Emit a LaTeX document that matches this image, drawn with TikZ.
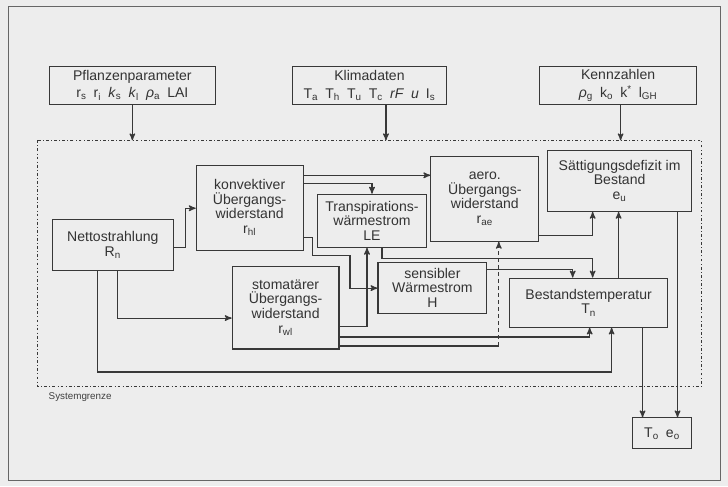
\documentclass[tikz,border=0pt]{standalone}
\usepackage{fontspec}
\setmainfont{Liberation Sans}
\usepackage{tikz}
\usetikzlibrary{arrows,positioning}

\begin{document}
\begin{tikzpicture}[x=0.025cm, y=-0.025cm, >=stealth', line width=0.8pt,
    every path/.style={draw=black!78},
    box/.style={rectangle, draw=black!78, align=center, inner sep=1pt,
        font=\fontsize{10}{10.4}\selectfont, text=black!80}]
    % background and frame
    \fill[black!7] (0,0) rectangle (728,486);
    \draw[line width=0.5pt, black!60] (8,6) rectangle (721,481);

    % input boxes
    \node[box, minimum width=166*0.025cm, minimum height=38*0.025cm] (pflanz) at (132,85)
        {Pflanzenparameter\\[2pt] r\textsubscript{s}\enspace r\textsubscript{i}\enspace \textit{k}\textsubscript{s}\enspace \textit{k}\textsubscript{l}\enspace \textit{ρ}\textsubscript{a}\enspace LAI};
    \node[box, minimum width=155*0.025cm, minimum height=38*0.025cm] (klima) at (369.5,85)
        {Klimadaten\\[2pt] T\textsubscript{a}\enspace T\textsubscript{h}\enspace T\textsubscript{u}\enspace T\textsubscript{c}\enspace \textit{rF}\enspace \textit{u}\enspace I\textsubscript{s}};
    \node[box, minimum width=157*0.025cm, minimum height=38*0.025cm] (kenn) at (618.5,85)
        {Kennzahlen\\[2pt] \textit{ρ}\textsubscript{g}\enspace k\textsubscript{o}\enspace k\textsuperscript{*}\enspace l\textsubscript{GH}};

    % system boundary
    \draw[line width=0.6pt, dash pattern=on 2pt off 1.6pt on 0.6pt off 1.6pt] (37,140) rectangle (702,386);
    \node[anchor=west, font=\fontsize{7}{8}\selectfont, text=black!75] (grenze) at (43,397) {Systemgrenze};
    \coordinate (gP) at (132,140);
    \coordinate (gK) at (386,140);
    \coordinate (gZ) at (621,140);

    % inner boxes
    \node[box, minimum width=121*0.025cm, minimum height=51*0.025cm] (netto) at (112.5,244.5)
        {Nettostrahlung\\R\textsubscript{n}};
    \node[box, minimum width=107*0.025cm, minimum height=85*0.025cm] (konv) at (249.5,207.5)
        {konvektiver\\Übergangs-\\widerstand\\r\textsubscript{hl}};
    \node[box, minimum width=110*0.025cm, minimum height=53*0.025cm] (transp) at (372,220.5)
        {Transpirations-\\wärmestrom\\LE};
    \node[box, minimum width=108*0.025cm, minimum height=85*0.025cm] (aero) at (485,198.5)
        {aero.\\Übergangs-\\widerstand\\r\textsubscript{ae}};
    \node[box, minimum width=144*0.025cm, minimum height=61*0.025cm] (saett) at (620,180.5)
        {Sättigungsdefizit im\\Bestand\\e\textsubscript{u}};
    \node[box, minimum width=109*0.025cm, minimum height=51*0.025cm] (sens) at (432.5,287.5)
        {sensibler\\Wärmestrom\\H};
    \node[box, minimum width=107*0.025cm, minimum height=83*0.025cm] (stom) at (285.5,307.5)
        {stomatärer\\Übergangs-\\widerstand\\r\textsubscript{wl}};
    \node[box, minimum width=158*0.025cm, minimum height=49*0.025cm] (best) at (589,302.5)
        {Bestandstemperatur\\T\textsubscript{n}};
    \node[box, minimum width=59*0.025cm, minimum height=31*0.025cm] (out) at (662.5,433.5)
        {T\textsubscript{o}\enspace e\textsubscript{o}};

    % inputs into the system
    \draw[->] (pflanz.south -| gP) -- (gP);
    \draw[->] (klima.south -| gK) -- (gK);
    \draw[->] (kenn.south -| gZ) -- (gZ);

    % connections
    \draw[->] (netto.east |- 0,247) -- (185,247) |- (konv.west |- 0,208);
    \draw[->] (97,0 |- netto.south) |- (612,372) -- (612,0 |- best.south);
    \draw[->] (117,0 |- netto.south) |- (stom.west |- 0,318);
    \draw[->] (konv.east |- 0,175) -- (aero.west |- 0,175);
    \draw[->] (konv.east |- 0,183) -| (372,0 |- transp.north);
    \draw[->] (konv.east |- 0,237) -| (312,255) -| (350,288) -- (sens.west |- 0,288);
    \draw[->] (stom.east |- 0,326) -| (367,0 |- transp.south);
    \draw[->] (stom.east |- 0,337) -| (590,0 |- best.south);
    \draw (stom.east |- 0,346) -- (499,346);
    \draw[->, densely dashed] (499,346) -- (499,0 |- aero.south);
    \draw[->] (382,0 |- transp.south) |- (593,258) -- (593,0 |- best.north);
    \draw[->] (sens.east |- 0,269) -| (573,0 |- best.north);
    \draw[->] (aero.east |- 0,235) -| (593,0 |- saett.south);
    \draw[->] (619,0 |- best.north) -- (619,0 |- saett.south);
    \draw[->] (678,0 |- saett.south) -- (678,0 |- out.north);
    \draw[->] (643,0 |- best.south) -- (643,0 |- out.north);
\end{tikzpicture}
\end{document}
